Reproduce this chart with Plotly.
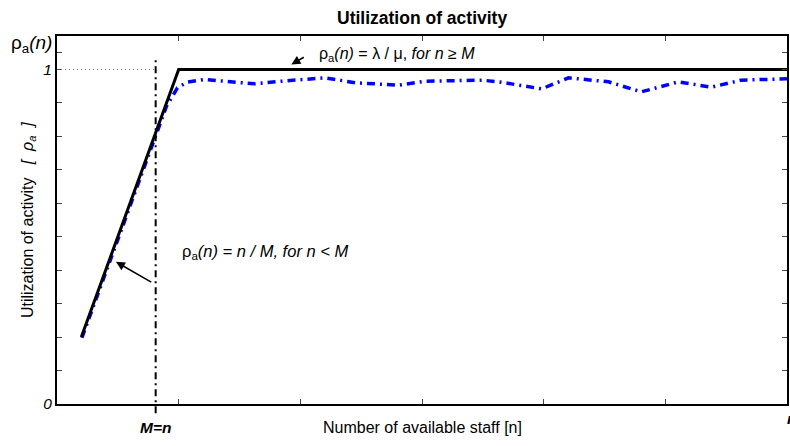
import plotly.graph_objects as go

# Theoretical utilization: rho = n/M for n<M, 1 for n>=M
theory_n = [0.2, 1.0, 6.0]
theory_rho = [0.2, 1.0, 1.0]

# Simulated utilization
sim_n = [0.205, 0.9, 0.99, 1.07, 1.213, 1.443, 1.623, 1.852, 2.197, 2.459, 2.811, 3.033, 3.492,
         3.631, 3.984, 4.205, 4.533, 4.803, 5.107, 5.377, 5.623, 6.0]
sim_rho = [0.198, 0.89, 0.945, 0.962, 0.970, 0.964, 0.957, 0.965, 0.975, 0.960, 0.953, 0.965, 0.968,
           0.963, 0.942, 0.975, 0.963, 0.933, 0.963, 0.947, 0.968, 0.972]

M_pos = 0.811
y_tickvals = [0, 0.1, 0.2, 0.3, 0.4, 0.5, 0.6, 0.7, 0.8, 0.9, 1.0, 1.05]
y_ticktext = ["<i>0</i>", "", "", "", "", "", "", "", "", "", "<i>1</i>", ""]
x_tickvals = [1, 2, 3, 4, 5]

fig = go.Figure()
fig.add_trace(go.Scatter(x=sim_n, y=sim_rho, mode="lines",
                         line=dict(color="#0000ff", width=3.5, dash="8px,5px,2px,5px"),
                         showlegend=False))
fig.add_trace(go.Scatter(x=theory_n, y=theory_rho, mode="lines",
                         line=dict(color="black", width=3), showlegend=False))

fig.add_shape(type="line", xref="x", yref="y", x0=0, x1=M_pos, y0=1, y1=1,
              line=dict(color="#777", width=1, dash="1px,3px"))
fig.add_shape(type="line", xref="x", yref="paper", x0=M_pos, x1=M_pos,
              y0=-0.025, y1=(404 - 58) / 368,
              line=dict(color="black", width=2, dash="7px,4px,2px,4px"))

font = "Arial, Liberation Sans, sans-serif"
ann = []
# arrows
ann.append(dict(x=1.926, y=1.015, ax=2.041, ay=1.039, axref="x", ayref="y", xref="x", yref="y",
                text="", showarrow=True, arrowhead=2, arrowsize=1.2, arrowwidth=1.5, arrowcolor="black"))
ann.append(dict(x=0.484, y=0.425, ax=0.787, ay=0.362, axref="x", ayref="y", xref="x", yref="y",
                text="", showarrow=True, arrowhead=2, arrowsize=1.2, arrowwidth=1.5, arrowcolor="black"))
ann.append(dict(x=2.139, y=1.045, xref="x", yref="y", xanchor="left", yanchor="middle",
                text="ρ<sub>a</sub><i>(n)</i> = λ / μ, <i>for n</i> ≥ <i>M</i>",
                showarrow=False, font=dict(size=16, color="black", family=font)))
ann.append(dict(x=1.008, y=0.455, xref="x", yref="y", xanchor="left", yanchor="middle",
                text="ρ<sub>a</sub><i>(n) = n / M, for n < M</i>",
                showarrow=False, font=dict(size=16.5, color="black", family=font)))
ann.append(dict(x=(31 - 57) / 732, y=(404 - 44) / 368, xref="paper", yref="paper",
                xanchor="center", yanchor="middle",
                text="ρ<sub>a</sub><i>(n)</i>", showarrow=False,
                font=dict(size=19, color="black", family=font)))
ann.append(dict(x=M_pos, y=(404 - 427) / 368, xref="x", yref="paper",
                xanchor="center", yanchor="middle", text="<b><i>M=n</i></b>", showarrow=False,
                font=dict(size=15.5, color="black", family=font)))
ann.append(dict(x=5.985, y=(404 - 418) / 368, xref="x", yref="paper",
                xanchor="left", yanchor="middle", text="<b><i>n</i></b>", showarrow=False,
                font=dict(size=15.5, color="black", family=font)))
ann.append(dict(x=0.5, y=(404 - 427) / 368, xref="paper", yref="paper",
                xanchor="center", yanchor="middle", text="Number of available staff [n]",
                showarrow=False, font=dict(size=16, color="black", family=font)))
ann.append(dict(x=(28 - 57) / 732, y=0.5, xref="paper", yref="paper", textangle=-90,
                xanchor="center", yanchor="middle",
                text="Utilization of activity&nbsp;&nbsp;&nbsp;<i>[&nbsp;&nbsp;ρ<sub>a</sub>&nbsp;&nbsp;]</i>",
                showarrow=False, font=dict(size=16, color="black", family=font)))
ann.append(dict(x=0.5, y=(404 - 18) / 368, xref="paper", yref="paper",
                xanchor="center", yanchor="middle", text="<b>Utilization of activity</b>",
                showarrow=False, font=dict(size=17.5, color="black", family=font)))

fig.update_layout(
    width=790, height=446,
    margin=dict(l=57, r=1, t=36, b=42),
    paper_bgcolor="white", plot_bgcolor="white",
    annotations=ann,
    showlegend=False,
    xaxis=dict(range=[0, 6], tickvals=x_tickvals, showticklabels=False,
               ticks="inside", ticklen=5, tickcolor="#444", tickwidth=1,
               showline=True, linecolor="black", linewidth=2, mirror="ticks",
               showgrid=False, zeroline=False, fixedrange=True),
    yaxis=dict(range=[0, 1.1], tickvals=y_tickvals, ticktext=y_ticktext,
               ticks="inside", ticklen=5, tickcolor="#444", tickwidth=1,
               tickfont=dict(size=15.5, color="black", family=font),
               showline=True, linecolor="black", linewidth=2, mirror="ticks",
               showgrid=False, zeroline=False, fixedrange=True),
)

fig.write_html("out.html", config={"displayModeBar": False},
               post_script="document.body.style.margin='0';document.body.style.overflow='hidden';")
